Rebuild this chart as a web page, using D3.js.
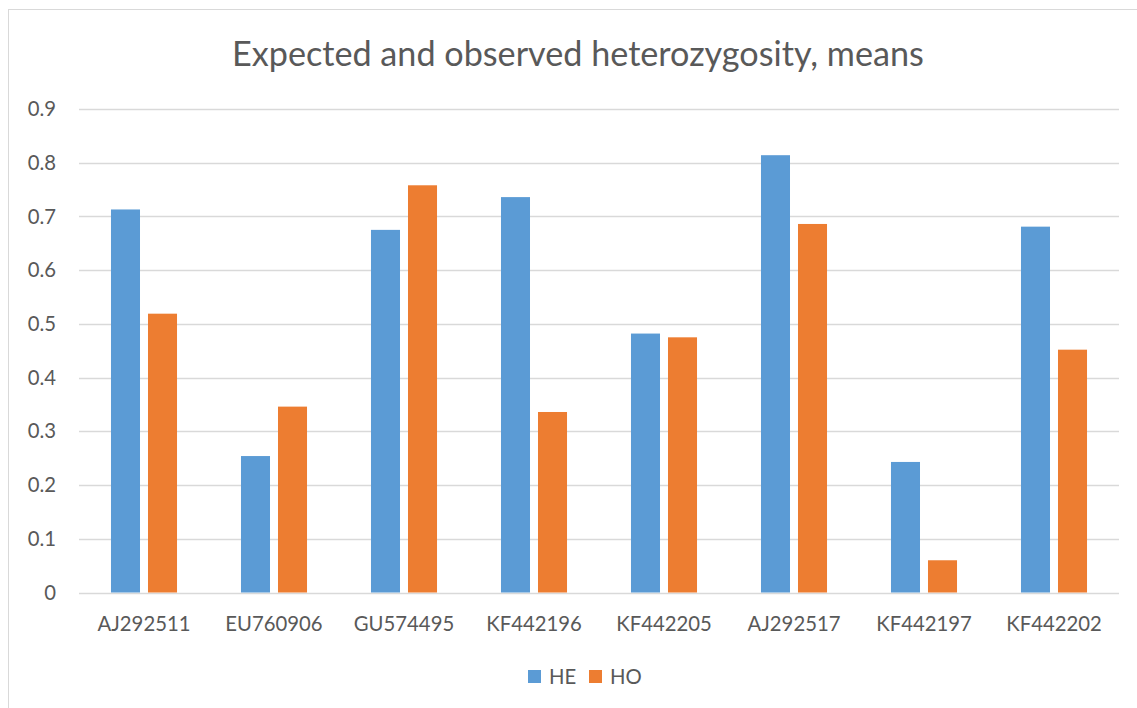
<!DOCTYPE html>
<html>
<head>
<meta charset="utf-8">
<script src="https://cdn.jsdelivr.net/npm/d3@7"></script>
<style>
  html, body { margin: 0; padding: 0; background: #fff; }
  svg { display: block; }
  text { font-family: "Lato", "Open Sans", sans-serif; fill: #595959; }
</style>
</head>
<body>
<svg id="chart" width="1137" height="708"></svg>
<script>
const title = "Expected and observed heterozygosity, means";
const categories = ["AJ292511", "EU760906", "GU574495", "KF442196", "KF442205", "AJ292517", "KF442197", "KF442202"];
const seriesNames = ["HE", "HO"];
const heValues = [0.713, 0.254, 0.675, 0.736, 0.482, 0.814, 0.243, 0.681];
const hoValues = [0.519, 0.346, 0.758, 0.336, 0.475, 0.686, 0.060, 0.452];
const yTicks = [0, 0.1, 0.2, 0.3, 0.4, 0.5, 0.6, 0.7, 0.8, 0.9];
const colors = ["#5B9BD5", "#ED7D31"];

const svg = d3.select("#chart");
const W = 1137, H = 708;
const plot = { left: 79, right: 1119, top: 109, bottom: 592.5 };

// fit font size so text spans target width
function fitSize(sel, target) {
  const w = sel.node().getComputedTextLength();
  const fs = parseFloat(sel.attr("font-size"));
  return fs * target / w;
}

// outer chart border
svg.append("rect")
  .attr("x", 8.5).attr("y", 9.5)
  .attr("width", 1200).attr("height", 800)
  .attr("fill", "none").attr("stroke", "#D9D9D9").attr("stroke-width", 1);

const x0 = d3.scaleBand().domain(categories).range([plot.left, plot.right]).paddingInner(0).paddingOuter(0);
const bw = x0.bandwidth();
const x1 = d3.scaleBand().domain(seriesNames).range([bw * 0.246, bw * 0.754]).paddingInner(0.216).paddingOuter(0);
const y = d3.scaleLinear().domain([0, 0.9]).range([plot.bottom, plot.top]);

// gridlines
svg.append("g").selectAll("line").data(yTicks).join("line")
  .attr("x1", plot.left).attr("x2", plot.right)
  .attr("y1", d => Math.round(y(d)) + 0.5).attr("y2", d => Math.round(y(d)) + 0.5)
  .attr("stroke", "#D9D9D9").attr("stroke-width", 1.3);

// measure label font size
const probe = svg.append("text").attr("font-size", 20).text("AJ292511");
const labelSize = fitSize(probe, 93);
probe.remove();

// y labels
svg.append("g").selectAll("text").data(yTicks).join("text")
  .attr("x", 56).attr("y", d => y(d))
  .attr("dy", "0.35em")
  .attr("text-anchor", "end")
  .attr("font-size", labelSize)
  .text(d => d3.format("")(d));

// bars
const data = categories.map((c, i) => ({ cat: c, vals: [
  { key: "HE", v: heValues[i] }, { key: "HO", v: hoValues[i] }
]}));
const groups = svg.append("g").selectAll("g").data(data).join("g")
  .attr("transform", d => `translate(${x0(d.cat)},0)`);
groups.selectAll("rect").data(d => d.vals).join("rect")
  .attr("x", d => x1(d.key))
  .attr("width", x1.bandwidth())
  .attr("y", d => y(d.v))
  .attr("height", d => y(0) - y(d.v))
  .attr("fill", (d, i) => colors[i]);

// x labels
svg.append("g").selectAll("text").data(categories).join("text")
  .attr("x", d => x0(d) + bw / 2)
  .attr("y", 631)
  .attr("text-anchor", "middle")
  .attr("font-size", labelSize)
  .text(d => d);

// title
const t = svg.append("text").attr("font-size", 30).text(title);
const tSize = fitSize(t, 692);
t.attr("font-size", tSize).attr("x", 232).attr("y", 66);

// legend
const legend = svg.append("g");
const legendX = [528, 589];
seriesNames.forEach((s, i) => {
  legend.append("rect").attr("x", legendX[i]).attr("y", 670)
    .attr("width", 13).attr("height", 13).attr("fill", colors[i]);
  legend.append("text").attr("x", legendX[i] + 21).attr("y", 684)
    .attr("font-size", labelSize).text(s);
});
</script>
</body>
</html>
